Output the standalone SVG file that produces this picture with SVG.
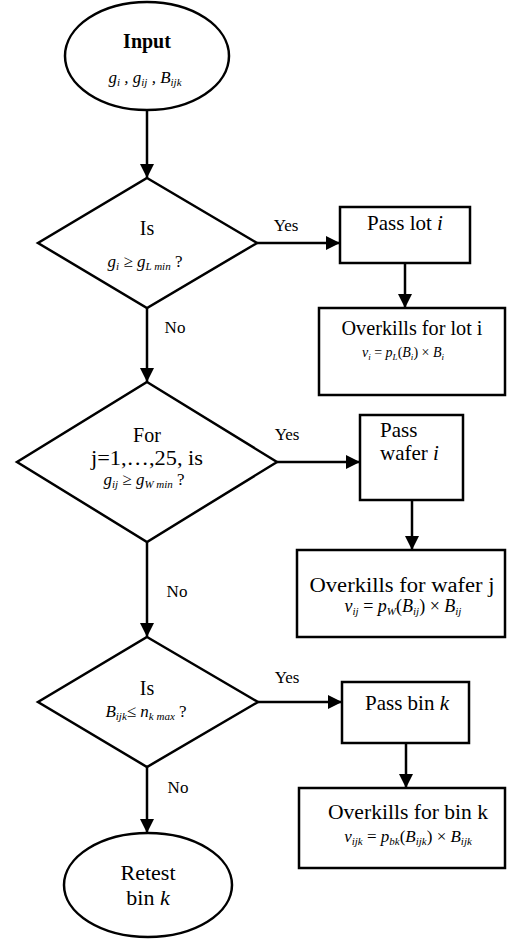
<svg xmlns="http://www.w3.org/2000/svg" width="508" height="941" viewBox="0 0 508 941">
<style>
.sh{stroke:#000;stroke-width:2.5;fill:#fff}
.ln{stroke:#000;stroke-width:2.5;fill:none}
text{font-family:"Liberation Serif","Times New Roman",serif;fill:#000;text-anchor:middle}
.t{font-size:20px}
.t21{font-size:21px}
.t22{font-size:22px}
.b{font-size:20px;font-weight:bold}
.f{font-size:14px;font-style:italic}
.f17{font-size:17px;font-style:italic}
.f18{font-size:18px;font-style:italic}
.s{font-size:9px}
.s2{font-size:11px}
.n{font-style:normal}
.i{font-style:italic}
.lb{font-size:17px}
.st{text-anchor:start}
</style>
<defs>
<marker id="ah" markerWidth="14" markerHeight="14" refX="14" refY="7" orient="auto" markerUnits="userSpaceOnUse"><path d="M0,0 L14,7 L0,14 z" fill="#000"/></marker>
</defs>
<rect width="508" height="941" fill="#fff"/>
<g id="connectors">
<path class="ln" d="M147,110 V178" marker-end="url(#ah)"/>
<path class="ln" d="M147,308 V382" marker-end="url(#ah)"/>
<path class="ln" d="M147,542 V637" marker-end="url(#ah)"/>
<path class="ln" d="M147,767 V833" marker-end="url(#ah)"/>
<path class="ln" d="M257,243 H340" marker-end="url(#ah)"/>
<path class="ln" d="M405,263 V308" marker-end="url(#ah)"/>
<path class="ln" d="M277,462 H360" marker-end="url(#ah)"/>
<path class="ln" d="M412,500 V550" marker-end="url(#ah)"/>
<path class="ln" d="M258,702 H342" marker-end="url(#ah)"/>
<path class="ln" d="M406,743 V788" marker-end="url(#ah)"/>
<text class="lb" x="286" y="231">Yes</text>
<text class="lb" x="175" y="333">No</text>
<text class="lb" x="287" y="440">Yes</text>
<text class="lb" x="177" y="597">No</text>
<text class="lb" x="287" y="683">Yes</text>
<text class="lb" x="178" y="793">No</text>
</g>
<g id="input">
<ellipse class="sh" cx="147" cy="56" rx="82" ry="54"/>
<text class="b" x="147" y="48">Input</text>
<text class="f17" x="145" y="83">g<tspan class="s2" dy="3">i</tspan><tspan dy="-3"> , g</tspan><tspan class="s2" dy="3">ij</tspan><tspan dy="-3"> , B</tspan><tspan class="s2" dy="3">ijk</tspan></text>
</g>
<g id="dec-lot">
<polygon class="sh" points="147,178 257,243 147,308 38,243"/>
<text class="t" x="147" y="235">Is</text>
<text class="f17" x="145" y="267">g<tspan class="s2" dy="3">i</tspan><tspan class="n" dy="-3"> ≥ </tspan><tspan>g</tspan><tspan class="s2" dy="3">L min</tspan><tspan class="n" dy="-3"> ?</tspan></text>
</g>
<g id="pass-lot">
<rect class="sh" x="340" y="207" width="130" height="56"/>
<text class="t21" x="405" y="230">Pass lot <tspan class="i">i</tspan></text>
</g>
<g id="overkill-lot">
<rect class="sh" x="319" y="308" width="186" height="87"/>
<text class="t" x="412" y="335" textLength="141" lengthAdjust="spacingAndGlyphs">Overkills for lot i</text>
<text class="f" x="403" y="357">v<tspan class="s" dy="3">i</tspan><tspan class="n" dy="-3"> = </tspan><tspan>p</tspan><tspan class="s" dy="3">L</tspan><tspan class="n" dy="-3">(</tspan><tspan>B</tspan><tspan class="s" dy="3">i</tspan><tspan class="n" dy="-3">) × </tspan><tspan>B</tspan><tspan class="s" dy="3">i</tspan></text>
</g>
<g id="dec-wafer">
<polygon class="sh" points="147,382 277,462 147,542 17,462"/>
<text class="t" x="147" y="442">For</text>
<text class="t" x="147" y="465" textLength="112" lengthAdjust="spacingAndGlyphs">j=1,…,25, is</text>
<text class="f17" x="144" y="485">g<tspan class="s2" dy="3">ij</tspan><tspan class="n" dy="-3"> ≥ </tspan><tspan>g</tspan><tspan class="s2" dy="3">W min</tspan><tspan class="n" dy="-3"> ?</tspan></text>
</g>
<g id="pass-wafer">
<rect class="sh" x="360" y="415" width="103" height="85"/>
<text class="t21 st" x="380" y="437">Pass</text>
<text class="t21 st" x="380" y="460">wafer <tspan class="i">i</tspan></text>
</g>
<g id="overkill-wafer">
<rect class="sh" x="297" y="550" width="208" height="87"/>
<text class="t" x="402" y="592" textLength="185" lengthAdjust="spacingAndGlyphs">Overkills for wafer j</text>
<text class="f18" x="403" y="612">v<tspan class="s2" dy="3">ij</tspan><tspan class="n" dy="-3"> = </tspan><tspan>p</tspan><tspan class="s2" dy="3">W</tspan><tspan class="n" dy="-3">(</tspan><tspan>B</tspan><tspan class="s2" dy="3">ij</tspan><tspan class="n" dy="-3">) × </tspan><tspan>B</tspan><tspan class="s2" dy="3">ij</tspan></text>
</g>
<g id="dec-bin">
<polygon class="sh" points="147,637 258,702 147,767 38,702"/>
<text class="t" x="147" y="695">Is</text>
<text class="f17" x="146" y="717">B<tspan class="s2" dy="3">ijk</tspan><tspan class="n" dy="-3">≤ </tspan><tspan>n</tspan><tspan class="s2" dy="3">k max</tspan><tspan class="n" dy="-3"> ?</tspan></text>
</g>
<g id="pass-bin">
<rect class="sh" x="342" y="682" width="127" height="61"/>
<text class="t21" x="407" y="710">Pass bin <tspan class="i">k</tspan></text>
</g>
<g id="overkill-bin">
<rect class="sh" x="299" y="788" width="206" height="80"/>
<text class="t" x="408" y="819" textLength="160" lengthAdjust="spacingAndGlyphs">Overkills for bin k</text>
<text class="f17" x="408" y="842">v<tspan class="s2" dy="3">ijk</tspan><tspan class="n" dy="-3"> = </tspan><tspan>p</tspan><tspan class="s2" dy="3">bk</tspan><tspan class="n" dy="-3">(</tspan><tspan>B</tspan><tspan class="s2" dy="3">ijk</tspan><tspan class="n" dy="-3">) × </tspan><tspan>B</tspan><tspan class="s2" dy="3">ijk</tspan></text>
</g>
<g id="retest">
<ellipse class="sh" cx="148" cy="885" rx="84" ry="52"/>
<text class="t22" x="148" y="880">Retest</text>
<text class="t22" x="148" y="905">bin <tspan class="i">k</tspan></text>
</g>
</svg>
